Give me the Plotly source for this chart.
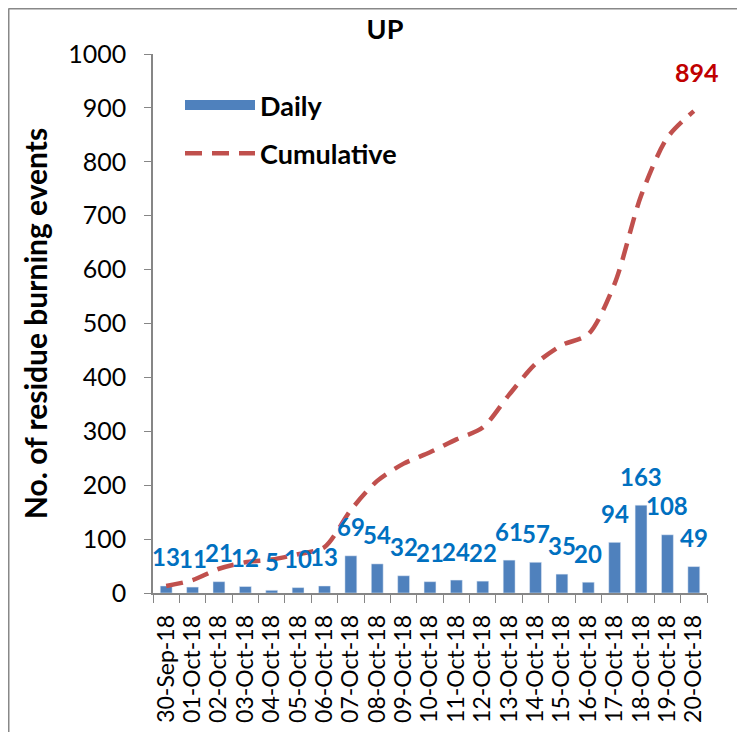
import plotly.graph_objects as go

dates = ["30-Sep-18", "01-Oct-18", "02-Oct-18", "03-Oct-18", "04-Oct-18", "05-Oct-18",
         "06-Oct-18", "07-Oct-18", "08-Oct-18", "09-Oct-18", "10-Oct-18", "11-Oct-18",
         "12-Oct-18", "13-Oct-18", "14-Oct-18", "15-Oct-18", "16-Oct-18", "17-Oct-18",
         "18-Oct-18", "19-Oct-18", "20-Oct-18"]
daily = [13, 11, 21, 12, 5, 10, 13, 69, 54, 32, 21, 24, 22, 61, 57, 35, 20, 94, 163, 108, 49]
cumulative = [13, 24, 45, 57, 62, 72, 85, 154, 208, 240, 261, 285, 307, 368, 425, 460, 480,
              574, 737, 845, 894]
y_ticks = [0, 100, 200, 300, 400, 500, 600, 700, 800, 900, 1000]

OFF = 8  # browser body margin
W, H = 745 - 2 * OFF, 740 - 2 * OFF
# plot area in screen pixels
X0, X1, Y0, Y1 = 153, 707, 54, 593
L, R, T, B = X0 - OFF, (W + OFF) - X1, Y0 - OFF, (H + OFF) - Y1
pw, ph = X1 - X0, Y1 - Y0


def px(x):
    return (x - X0) / pw


def py(y):
    return (Y1 - y) / ph


BAR = "#4F81BD"
LINE = "#C0504D"
FONT = "Lato"

fig = go.Figure()
fig.add_trace(go.Bar(x=dates, y=daily, marker_color=BAR, width=0.45,
                     showlegend=False, name="Daily"))
fig.add_trace(go.Scatter(x=[None], y=[None], mode="lines", name="Daily",
                         line=dict(color=BAR, width=16), legendgroup="a"))
fig.add_trace(go.Scatter(x=dates, y=cumulative, mode="lines", name="Cumulative",
                         line=dict(color=LINE, width=4.5, dash="17px,10px", shape="spline",
                                   smoothing=0.8),
                         legendgroup="b"))

annotations = []
for d, v in zip(dates, daily):
    annotations.append(dict(x=d, y=v, text=str(v), showarrow=False, yanchor="middle",
                            yshift=29, font=dict(family=FONT, size=24, color="#0070C0",
                                                 weight="bold")))
annotations.append(dict(x=dates[-1], y=cumulative[-1], text=str(cumulative[-1]),
                        showarrow=False, yanchor="middle", yshift=39, xshift=3,
                        font=dict(family=FONT, size=25, color="#C00000", weight="bold")))

shapes = [
    dict(type="line", xref="paper", yref="paper", x0=px(8.5), x1=px(8.5), y0=py(8.5),
         y1=py(760), line=dict(color="#888888", width=2)),
    dict(type="line", xref="paper", yref="paper", x0=px(8.5), x1=px(760), y0=py(8.5),
         y1=py(8.5), line=dict(color="#888888", width=2)),
]

fig.update_layout(
    width=W, height=H,
    margin=dict(l=L, r=R, t=T, b=B, autoexpand=False),
    paper_bgcolor="white", plot_bgcolor="white",
    font=dict(family=FONT, color="black"),
    title=dict(text="<b>UP</b>", xref="container", yref="container",
               x=(385 - OFF) / W, y=1 - (30 - OFF) / H, xanchor="center",
               yanchor="middle", font=dict(family=FONT, size=27, color="black")),
    showlegend=True,
    legend=dict(x=px(180), y=py(81), xanchor="left", yanchor="top",
                bgcolor="rgba(0,0,0,0)", itemwidth=70, tracegroupgap=10,
                font=dict(family=FONT, size=27, color="black", weight="bold")),
    annotations=annotations,
    shapes=shapes,
    bargap=0.5,
)
fig.update_xaxes(type="category", tickmode="array", tickvals=dates, ticktext=dates,
                 showline=True, linecolor="#868686", linewidth=1.5,
                 ticks="outside", ticklen=8, tickcolor="#868686", tickson="boundaries",
                 tickangle=-90, tickfont=dict(family=FONT, size=23, color="black"),
                 showgrid=False, ticklabelstandoff=11, range=[-0.5, len(dates) - 0.5])
fig.update_yaxes(range=[0, 1000], tickvals=y_ticks, showline=True, linecolor="#868686",
                 linewidth=1.5, ticks="outside", ticklen=7, tickcolor="#868686",
                 tickfont=dict(family=FONT, size=25, color="black"), showgrid=False,
                 zeroline=False, ticklabelstandoff=13,
                 title=dict(text="<b>No. of residue burning events</b>", standoff=12,
                            font=dict(family=FONT, size=30, color="black")))

fig.write_html("out.html")
